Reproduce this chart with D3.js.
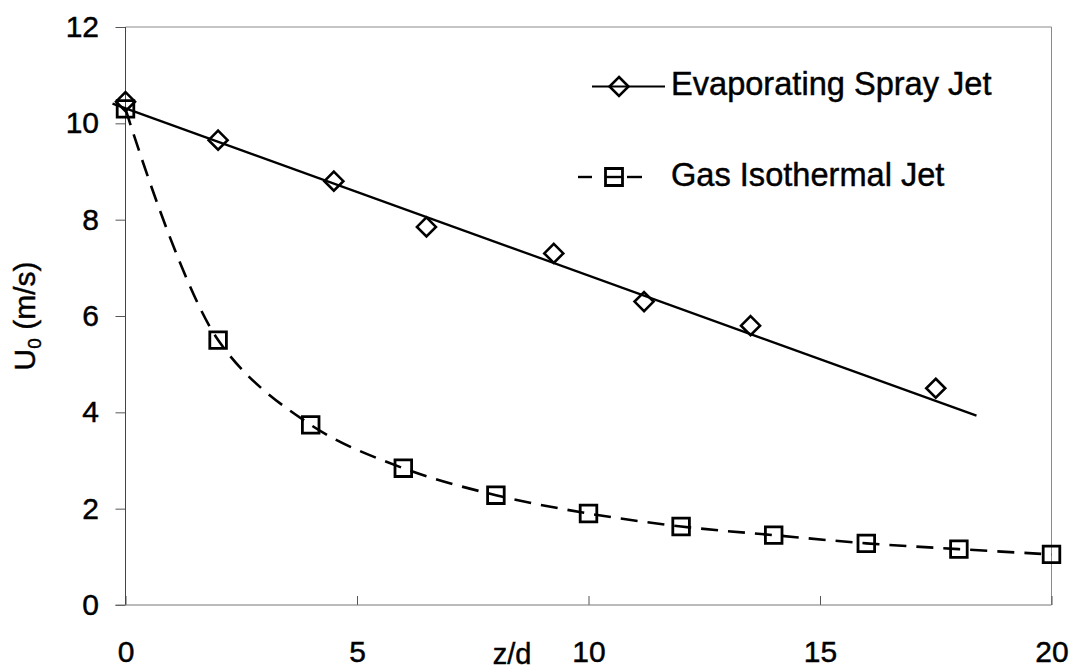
<!DOCTYPE html>
<html>
<head>
<meta charset="utf-8">
<script src="https://cdn.jsdelivr.net/npm/d3@7"></script>
<style>
  html, body { margin: 0; padding: 0; background: #fff; }
  svg { display: block; }
  text { font-family: "Liberation Sans", Arial, sans-serif; fill: #000; stroke: #000; stroke-width: 0.45px; }
</style>
</head>
<body>
<svg id="chart" width="1073" height="667"></svg>
<script>
// ---- data ----
const xTicks = [0, 5, 10, 15, 20];
const yTicks = [0, 2, 4, 6, 8, 10, 12];

const sprayName = "Evaporating Spray Jet";
const sprayX = [0, 2, 4.5, 6.5, 9.25, 11.2, 13.5, 17.5];
const sprayY = [10.45, 9.65, 8.8, 7.85, 7.3, 6.3, 5.8, 4.5];

// linear trend line drawn for the spray jet
const trendX = [-0.28, 18.38];
const trendY = [10.41, 3.93];

const gasName = "Gas Isothermal Jet";
const gasX = [0, 2, 4, 6, 8, 10, 12, 14, 16, 18, 20];
const gasY = [10.3, 5.5, 3.74, 2.84, 2.28, 1.9, 1.63, 1.45, 1.28, 1.16, 1.05];

const xLabel = "z/d";
const yLabelMain = "U";
const yLabelSub = "0";
const yLabelRest = " (m/s)";

// ---- layout ----
const svg = d3.select("#chart");
const x = d3.scaleLinear().domain([0, 20]).range([125.5, 1051.5]);
const y = d3.scaleLinear().domain([0, 12]).range([605, 27]);

// frame (top / right)
svg.append("path")
  .attr("d", `M${x(0)},${y(12)}H${x(20)}V${y(0)}`)
  .attr("fill", "none").attr("stroke", "#8a8a8a").attr("stroke-width", 1);

// y axis
const yAxis = svg.append("g")
  .attr("transform", `translate(${x(0)},0)`)
  .call(d3.axisLeft(y).tickValues(yTicks).tickSize(10).tickPadding(16.5).tickFormat(d3.format("d")));
yAxis.select(".domain").remove();
yAxis.selectAll("line").attr("stroke", "#555");
yAxis.selectAll("text").style("font-size", "30px").style("font-family", '"Liberation Sans", Arial, sans-serif').attr("fill", "#000");

// x axis
const xAxis = svg.append("g")
  .attr("transform", `translate(0,${y(0)})`)
  .call(d3.axisBottom(x).tickValues(xTicks).tickSize(-9).tickPadding(36).tickFormat(d3.format("d")));
xAxis.select(".domain").remove();
xAxis.selectAll("line").attr("stroke", "#555");
xAxis.selectAll("text").style("font-size", "30px").style("font-family", '"Liberation Sans", Arial, sans-serif').attr("fill", "#000");

// axis lines
svg.append("line").attr("x1", x(0)).attr("x2", x(0)).attr("y1", y(12)).attr("y2", y(0))
  .attr("stroke", "#444").attr("stroke-width", 1);
svg.append("line").attr("x1", x(0) - 10).attr("x2", x(20)).attr("y1", y(0)).attr("y2", y(0))
  .attr("stroke", "#777").attr("stroke-width", 1);

// axis titles
svg.append("text")
  .attr("x", 512).attr("y", 664)
  .attr("text-anchor", "middle")
  .style("font-size", "29px")
  .text(xLabel);

const yl = svg.append("text")
  .attr("transform", "translate(35,316) rotate(-90)")
  .attr("text-anchor", "middle")
  .style("font-size", "30px");
yl.append("tspan").text(yLabelMain);
yl.append("tspan").attr("dy", 6).style("font-size", "19px").text(yLabelSub);
yl.append("tspan").attr("dy", -6).text(yLabelRest);

// ---- series ----
const sprayData = sprayX.map((d, i) => [d, sprayY[i]]);
const gasData = gasX.map((d, i) => [d, gasY[i]]);
const trendData = trendX.map((d, i) => [d, trendY[i]]);

const line = d3.line().x(d => x(d[0])).y(d => y(d[1]));

// trend line (solid)
svg.append("path")
  .attr("d", line(trendData))
  .attr("fill", "none").attr("stroke", "#000").attr("stroke-width", 2.3);

// gas smoothed dashed line
svg.append("path")
  .attr("d", line.curve(d3.curveCatmullRom.alpha(0.5))(gasData))
  .attr("fill", "none").attr("stroke", "#000").attr("stroke-width", 2.6)
  .attr("stroke-dasharray", "17,10");

const diamond = s => `M0,${-s}L${s},0L0,${s}L${-s},0Z`;
const square = s => `M${-s},${-s}H${s}V${s}H${-s}Z`;

// gas markers
svg.append("g").selectAll("path").data(gasData).join("path")
  .attr("transform", d => `translate(${x(d[0])},${y(d[1])})`)
  .attr("d", square(8.3))
  .attr("fill", "none").attr("stroke", "#000").attr("stroke-width", 2.8);

// spray markers
svg.append("g").selectAll("path").data(sprayData).join("path")
  .attr("transform", d => `translate(${x(d[0])},${y(d[1])})`)
  .attr("d", diamond(9.5))
  .attr("fill", "none").attr("stroke", "#000").attr("stroke-width", 2.6);

// ---- legend ----
const lg = svg.append("g");
lg.append("line").attr("x1", 592).attr("x2", 665).attr("y1", 86.5).attr("y2", 86.5)
  .attr("stroke", "#000").attr("stroke-width", 2);
lg.append("path").attr("transform", "translate(619,86.5)").attr("d", diamond(9.5))
  .attr("fill", "none").attr("stroke", "#000").attr("stroke-width", 2.6);
lg.append("text").attr("x", 671).attr("y", 95).style("font-size", "32.6px").text(sprayName);

[[578, 592], [605, 623], [627, 642]].forEach(s => {
  lg.append("line").attr("x1", s[0]).attr("x2", s[1]).attr("y1", 177).attr("y2", 177)
    .attr("stroke", "#000").attr("stroke-width", 2.4);
});
lg.append("path").attr("transform", "translate(614,177)").attr("d", square(8.5))
  .attr("fill", "none").attr("stroke", "#000").attr("stroke-width", 2.8);
lg.append("text").attr("x", 671).attr("y", 186).style("font-size", "32.6px").text(gasName);
</script>
</body>
</html>
